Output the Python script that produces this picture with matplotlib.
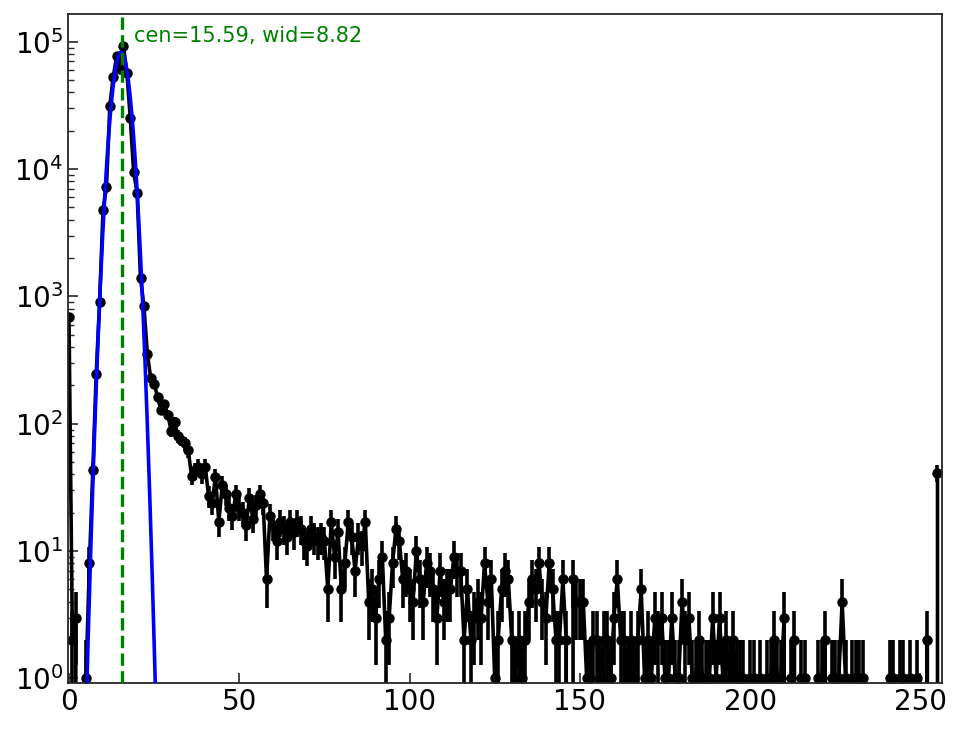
import numpy as np
import matplotlib.pyplot as plt

# histogram counts, one per channel 0..255
channels = np.arange(256)
counts = np.array([
    690, 2, 3, 0, 0, 1, 8, 43, 248, 910, 4800, 7200, 31500, 53000, 77000, 61000,
    92000, 57000, 25000, 9400, 6500, 1390, 840, 355, 228, 207, 163, 128, 142, 118, 88, 103,
    80, 75, 70, 62, 39, 43, 46, 40, 46, 27, 24, 38, 17, 33, 28, 22,
    19, 28, 22, 20, 16, 26, 18, 23, 28, 24, 6, 19, 16, 12, 17, 15,
    13, 17, 14, 17, 15, 12, 11, 15, 13, 12, 13, 12, 5, 17, 9, 14,
    5, 8, 17, 13, 7, 13, 11, 17, 4, 5, 3, 6, 9, 2, 3, 8,
    15, 12, 6, 7, 5, 4, 10, 6, 4, 8, 7, 5, 3, 7, 4, 5,
    5, 9, 7, 7, 2, 5, 2, 3, 4, 3, 8, 4, 6, 1, 2, 5,
    7, 6, 2, 1, 2, 1, 2, 4, 6, 5, 8, 4, 3, 8, 5, 2,
    2, 6, 2, 0, 6, 4, 4, 4, 1, 1, 2, 2, 1, 2, 2, 1,
    3, 6, 2, 2, 1, 2, 1, 2, 5, 1, 2, 1, 3, 2, 3, 1,
    1, 3, 1, 1, 4, 2, 3, 1, 1, 2, 1, 1, 1, 3, 1, 3,
    1, 2, 1, 2, 1, 1, 1, 0, 1, 1, 0, 1, 0, 1, 1, 2,
    1, 1, 3, 0, 1, 2, 0, 1, 1, 0, 0, 0, 1, 1, 2, 0,
    1, 1, 1, 4, 1, 0, 1, 1, 1, 1, 0, 0, 0, 0, 0, 0,
    0, 1, 1, 0, 1, 1, 0, 1, 0, 1, 0, 0, 2, 0, 0, 41,
], dtype=float)

# gaussian fit of the peak
cen = 15.59
wid = 8.82
fit_amp = 83000.0
fit_cen = 15.3
fit_sigma = 2.1

fig = plt.figure(figsize=(9.64, 7.29), dpi=100)
ax = fig.add_axes([0.0705, 0.0625, 0.9066, 0.9183])

ax.errorbar(channels, counts, yerr=np.sqrt(counts), fmt='o-', color='black',
            ms=6.5, lw=2.6, elinewidth=2.6, zorder=2)

xf = np.linspace(0, 256, 2000)
ax.plot(xf, fit_amp * np.exp(-(xf - fit_cen) ** 2 / (2 * fit_sigma ** 2)),
        color='blue', lw=2.6, zorder=3)

ax.axvline(cen, color='green', lw=2.4, ls='--', zorder=4)
ax.text(cen + 3.5, 1.1e5, "cen=%.2f, wid=%.2f" % (cen, wid), color='green',
        fontsize=15, va='center', ha='left')

ax.set_yscale('log')
ax.set_xlim(-0.3, 256.3)
ax.set_ylim(0.914, 1.65e5)

for s in ax.spines.values():
    s.set_color('0.15')
    s.set_linewidth(1.3)
ax.tick_params(which='both', direction='in', top=False, right=False,
               labelsize=20, color='0.15')
ax.tick_params(which='major', length=7, width=1.2)
ax.tick_params(which='minor', length=4, width=1)

fig.savefig('out.png', dpi=100)
